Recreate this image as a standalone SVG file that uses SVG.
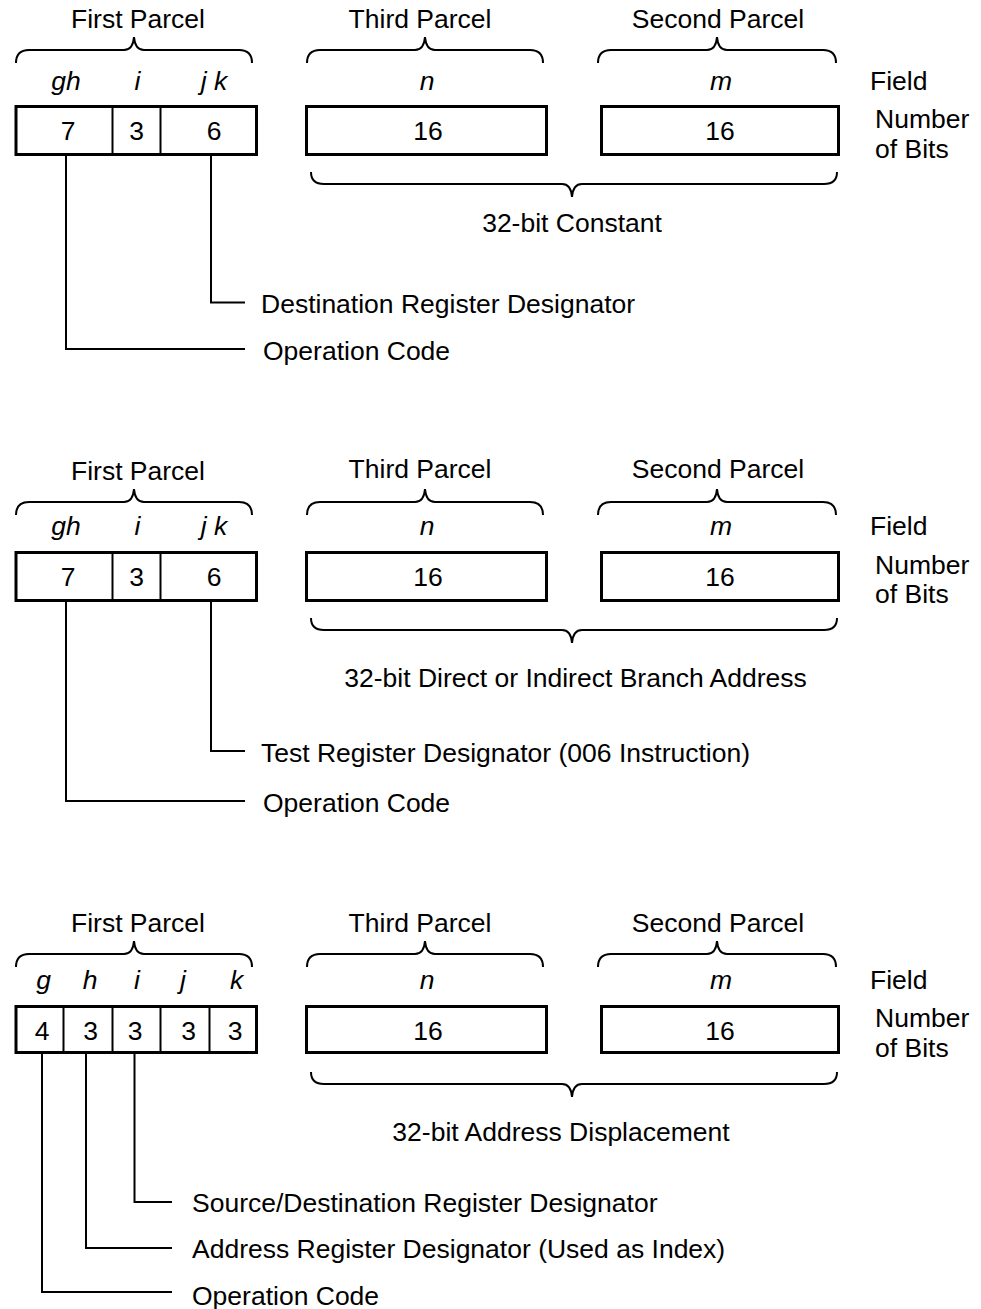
<svg xmlns="http://www.w3.org/2000/svg" width="981" height="1309" viewBox="0 0 981 1309">
<style>
text{font-family:"Liberation Sans",Arial,Helvetica,sans-serif;font-size:26.5px;fill:#000}
.c{text-anchor:middle}
.it{font-style:italic}
.box{fill:#fff;stroke:#000;stroke-width:3}
.div{stroke:#000;stroke-width:2;fill:none}
.br{fill:none;stroke:#000;stroke-width:2}
.ln{fill:none;stroke:#000;stroke-width:2}
</style>
<rect width="981" height="1309" fill="#fff"/>

<!-- ===== Section 1 ===== -->
<g id="s1-first">
<text class="c" x="138" y="28">First Parcel</text>
<path class="br" d="M16,63 Q16,50 29,50 H124 Q133,50 134,37 Q135,50 144,50 H239 Q252,50 252,63"/>
<text class="c it" x="66" y="90">gh</text>
<text class="c it" x="137.5" y="90">i</text>
<text class="c it" x="214" y="90">j k</text>
<rect class="box" x="16" y="106.5" width="240.5" height="48"/>
<line class="div" x1="112.5" y1="106.5" x2="112.5" y2="154.5"/>
<line class="div" x1="160.5" y1="106.5" x2="160.5" y2="154.5"/>
<text class="c" x="68" y="140">7</text>
<text class="c" x="136.5" y="140">3</text>
<text class="c" x="214" y="140">6</text>
</g>
<g id="s1-third">
<text class="c" x="420" y="28">Third Parcel</text>
<path class="br" d="M307,63 Q307,50 320,50 H415 Q424,50 425,37 Q426,50 435,50 H530 Q543,50 543,63"/>
<text class="c it" x="427" y="90">n</text>
<rect class="box" x="306.5" y="106.5" width="240" height="48"/>
<text class="c" x="428" y="140">16</text>
</g>
<g id="s1-second">
<text class="c" x="718" y="28">Second Parcel</text>
<path class="br" d="M598,63 Q598,50 611,50 H707 Q716,50 717,37 Q718,50 727,50 H823 Q836,50 836,63"/>
<text class="c it" x="721" y="90">m</text>
<rect class="box" x="601.5" y="106.5" width="237" height="48"/>
<text class="c" x="720" y="140">16</text>
</g>
<g id="s1-legend">
<text x="870" y="90">Field</text>
<text x="875" y="128">Number</text>
<text x="875" y="158">of Bits</text>
</g>
<g id="s1-constant">
<path class="br" d="M311,172 Q311,184 324,184 H562 Q571,184 572,197 Q573,184 582,184 H824 Q837,184 837,172"/>
<text class="c" x="572" y="232">32-bit Constant</text>
</g>
<g id="s1-dest"><text x="261" y="312.5">Destination Register Designator</text></g>
<g id="s1-op"><text x="263" y="360">Operation Code</text></g>

<!-- ===== Section 2 ===== -->
<g id="s2-first">
<text class="c" x="138" y="480">First Parcel</text>
<path class="br" d="M16,515 Q16,502 29,502 H124 Q133,502 134,489 Q135,502 144,502 H239 Q252,502 252,515"/>
<text class="c it" x="66" y="535">gh</text>
<text class="c it" x="137.5" y="535">i</text>
<text class="c it" x="214" y="535">j k</text>
<rect class="box" x="16" y="552.5" width="240.5" height="48"/>
<line class="div" x1="112.5" y1="552.5" x2="112.5" y2="600.5"/>
<line class="div" x1="160.5" y1="552.5" x2="160.5" y2="600.5"/>
<text class="c" x="68" y="586">7</text>
<text class="c" x="136.5" y="586">3</text>
<text class="c" x="214" y="586">6</text>
</g>
<g id="s2-third">
<text class="c" x="420" y="478">Third Parcel</text>
<path class="br" d="M307,515 Q307,502 320,502 H415 Q424,502 425,489 Q426,502 435,502 H530 Q543,502 543,515"/>
<text class="c it" x="427" y="535">n</text>
<rect class="box" x="306.5" y="552.5" width="240" height="48"/>
<text class="c" x="428" y="586">16</text>
</g>
<g id="s2-second">
<text class="c" x="718" y="478">Second Parcel</text>
<path class="br" d="M598,515 Q598,502 611,502 H707 Q716,502 717,489 Q718,502 727,502 H823 Q836,502 836,515"/>
<text class="c it" x="721" y="535">m</text>
<rect class="box" x="601.5" y="552.5" width="237" height="48"/>
<text class="c" x="720" y="586">16</text>
</g>
<g id="s2-legend">
<text x="870" y="535">Field</text>
<text x="875" y="574">Number</text>
<text x="875" y="603">of Bits</text>
</g>
<g id="s2-address">
<path class="br" d="M311,618 Q311,630 324,630 H562 Q571,630 572,643 Q573,630 582,630 H824 Q837,630 837,618"/>
<text class="c" x="575.5" y="687">32-bit Direct or Indirect Branch Address</text>
</g>
<g id="s2-test"><text x="261" y="762">Test Register Designator (006 Instruction)</text></g>
<g id="s2-op"><text x="263" y="812">Operation Code</text></g>

<!-- ===== Section 3 ===== -->
<g id="s3-first">
<text class="c" x="138" y="932">First Parcel</text>
<path class="br" d="M16,967 Q16,954 29,954 H124 Q133,954 134,941 Q135,954 144,954 H239 Q252,954 252,967"/>
<text class="c it" x="43.5" y="989">g</text>
<text class="c it" x="90" y="989">h</text>
<text class="c it" x="137" y="989">i</text>
<text class="c it" x="183" y="989">j</text>
<text class="c it" x="236.5" y="989">k</text>
<rect class="box" x="16" y="1006.5" width="240.5" height="46"/>
<line class="div" x1="63.5" y1="1006.5" x2="63.5" y2="1052.5"/>
<line class="div" x1="112.5" y1="1006.5" x2="112.5" y2="1052.5"/>
<line class="div" x1="160.5" y1="1006.5" x2="160.5" y2="1052.5"/>
<line class="div" x1="209.5" y1="1006.5" x2="209.5" y2="1052.5"/>
<text class="c" x="42" y="1039.5">4</text>
<text class="c" x="90.5" y="1039.5">3</text>
<text class="c" x="135" y="1039.5">3</text>
<text class="c" x="188.5" y="1039.5">3</text>
<text class="c" x="235" y="1039.5">3</text>
</g>
<g id="s3-third">
<text class="c" x="420" y="932">Third Parcel</text>
<path class="br" d="M307,967 Q307,954 320,954 H415 Q424,954 425,941 Q426,954 435,954 H530 Q543,954 543,967"/>
<text class="c it" x="427" y="989">n</text>
<rect class="box" x="306.5" y="1006.5" width="240" height="46"/>
<text class="c" x="428" y="1039.5">16</text>
</g>
<g id="s3-second">
<text class="c" x="718" y="932">Second Parcel</text>
<path class="br" d="M598,967 Q598,954 611,954 H707 Q716,954 717,941 Q718,954 727,954 H823 Q836,954 836,967"/>
<text class="c it" x="721" y="989">m</text>
<rect class="box" x="601.5" y="1006.5" width="237" height="46"/>
<text class="c" x="720" y="1039.5">16</text>
</g>
<g id="s3-legend">
<text x="870" y="989">Field</text>
<text x="875" y="1027">Number</text>
<text x="875" y="1057">of Bits</text>
</g>
<g id="s3-disp">
<path class="br" d="M311,1072 Q311,1084 324,1084 H562 Q571,1084 572,1097 Q573,1084 582,1084 H824 Q837,1084 837,1072"/>
<text class="c" x="561" y="1141">32-bit Address Displacement</text>
</g>
<g id="s3-src"><text x="192" y="1212">Source/Destination Register Designator</text></g>
<g id="s3-addr"><text x="192" y="1258">Address Register Designator (Used as Index)</text></g>
<g id="s3-op"><text x="192" y="1305">Operation Code</text></g>

<!-- ===== Connectors ===== -->
<g id="connectors">
<polyline class="ln" points="211,154.5 211,302.5 245,302.5"/>
<polyline class="ln" points="66,154.5 66,349 245,349"/>
<polyline class="ln" points="211,600.5 211,751 245,751"/>
<polyline class="ln" points="66,600.5 66,801 245,801"/>
<polyline class="ln" points="134.5,1052.5 134.5,1202 172,1202"/>
<polyline class="ln" points="86,1052.5 86,1248 172,1248"/>
<polyline class="ln" points="42,1052.5 42,1292 172,1292"/>
</g>
</svg>
